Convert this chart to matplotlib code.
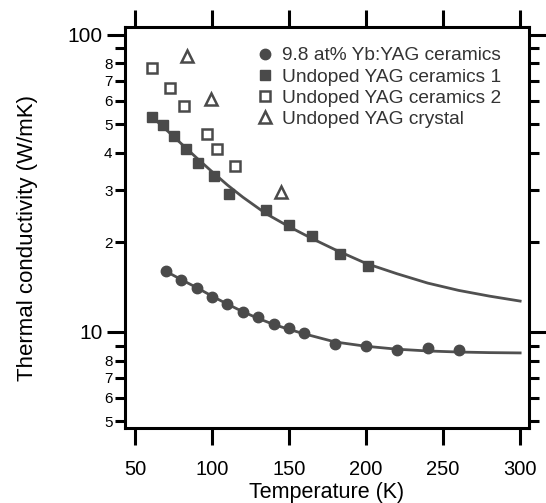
import numpy as np
import matplotlib.pyplot as plt
from matplotlib.ticker import FixedLocator, FixedFormatter

# 9.8 at% Yb:YAG ceramics
t_yb = [70, 80, 90, 100, 110, 120, 130, 140, 150, 160, 180, 200, 220, 240, 260]
k_yb = [16.0, 15.0, 14.1, 13.1, 12.4, 11.7, 11.2, 10.6, 10.3, 9.9, 9.1, 9.0, 8.7, 8.8, 8.7]

# undoped YAG ceramics 1
t_c1 = [61, 68, 75, 83, 91, 101, 111, 135, 150, 165, 183, 201]
k_c1 = [53.0, 49.7, 45.6, 41.4, 36.9, 33.4, 29.2, 25.7, 22.9, 21.0, 18.3, 16.7]

# undoped YAG ceramics 2
t_c2 = [61, 73, 82, 97, 103, 115]
k_c2 = [77.4, 66.0, 57.7, 46.4, 41.3, 36.1]

# undoped YAG crystal
t_cr = [84, 99, 145]
k_cr = [85.0, 60.6, 29.6]

# fitted curves
fit_t_yb = [70, 80, 90, 100, 110, 120, 130, 140, 150, 160, 180, 200, 220, 240, 260, 280, 300]
fit_k_yb = [16.0, 15.0, 14.1, 13.2, 12.4, 11.7, 11.1, 10.6, 10.2, 9.85, 9.25, 8.95,
            8.75, 8.63, 8.56, 8.52, 8.5]
fit_t_c1 = [60, 70, 80, 90, 100, 110, 120, 135, 150, 165, 180, 200, 220, 240, 260, 280, 300]
fit_k_c1 = [53.5, 48.0, 43.0, 38.5, 34.6, 31.2, 28.4, 25.0, 22.6, 20.6, 18.9, 17.0,
            15.7, 14.6, 13.8, 13.2, 12.7]

yticks_minor = [5, 6, 7, 8, 9, 20, 30, 40, 50, 60, 70, 80, 90]
yticks_minor_lbl = ["5", "6", "7", "8", "", "2", "3", "4", "5", "6", "7", "8", ""]

gray = "#4a4a4a"
plt.rcParams["font.family"] = ["Liberation Sans", "DejaVu Sans"]

fig = plt.figure(figsize=(5.46, 5.03), dpi=100)
ax = fig.add_axes([0.229, 0.149, 0.740, 0.797])

ax.plot(fit_t_c1, fit_k_c1, color="#505050", lw=2, zorder=2)
ax.plot(fit_t_yb, fit_k_yb, color="#505050", lw=2, zorder=2)

ax.plot(t_yb, k_yb, "o", color=gray, ms=7.5, label="9.8 at% Yb:YAG ceramics", zorder=3)
ax.plot(t_c1, k_c1, "s", color=gray, ms=7.5, label="Undoped YAG ceramics 1", zorder=3)
ax.plot(t_c2, k_c2, "s", mfc="white", mec=gray, mew=1.8, ms=7,
        label="Undoped YAG ceramics 2", zorder=3)
ax.plot(t_cr, k_cr, "^", mfc="white", mec=gray, mew=1.8, ms=8,
        label="Undoped YAG crystal", zorder=3)

ax.set_yscale("log")
ax.set_xlim(43.5, 305.8)
ax.set_ylim(4.75, 106)

ax.set_xticks([50, 100, 150, 200, 250, 300])
ax.yaxis.set_major_locator(FixedLocator([10, 100]))
ax.yaxis.set_minor_locator(FixedLocator(yticks_minor))
ax.yaxis.set_minor_formatter(FixedFormatter(yticks_minor_lbl))
ax.set_yticklabels(["10", "100"])

for s in ax.spines.values():
    s.set_linewidth(2.2)

ax.tick_params(which="both", direction="out", top=True, right=True, width=2.2, color="black")
ax.tick_params(axis="x", length=12, pad=11, labelsize=14.5)
ax.tick_params(axis="y", which="major", length=13, pad=3, labelsize=15)
ax.tick_params(axis="y", which="minor", length=7, pad=2, labelsize=11)

ax.set_xlabel("Temperature (K)", fontsize=15.5, labelpad=2)
ax.set_ylabel("Thermal conductivity (W/mK)", fontsize=16)
ax.yaxis.set_label_coords(-0.215, 0.475)

leg = ax.legend(loc="upper right", bbox_to_anchor=(0.95, 0.97), frameon=False,
                handletextpad=0.3, handlelength=1.2, labelspacing=0.2,
                prop={"size": 13.8}, borderaxespad=0)
for txt in leg.get_texts():
    txt.set_color("#333333")

fig.savefig("out.png", dpi=100)
